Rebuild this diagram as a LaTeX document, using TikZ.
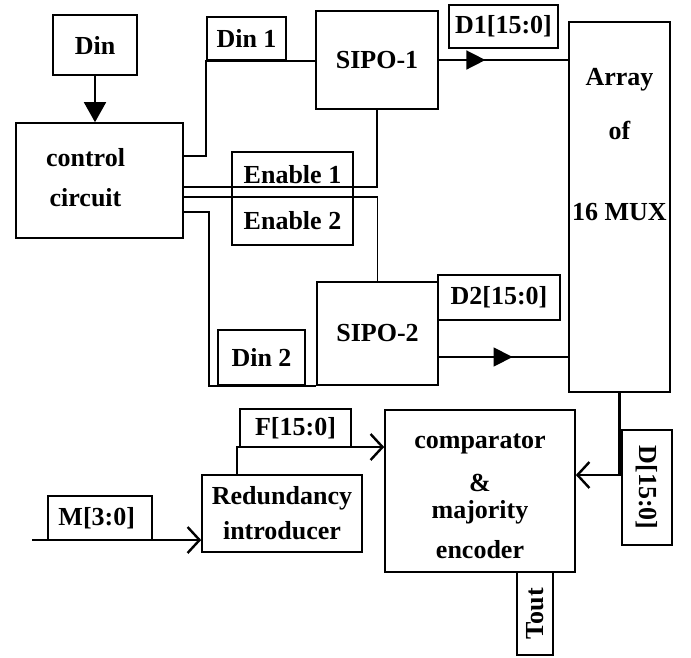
\documentclass[tikz,border=0pt]{standalone}
\usepackage{fontspec}
\setmainfont{Liberation Serif}
\usetikzlibrary{arrows.meta,decorations.markings}

\begin{document}
\begin{tikzpicture}[x=1pt, y=1pt, line width=1.6pt,
        font=\fontsize{26}{30}\selectfont\bfseries,
        midtip/.style={postaction={decorate}, decoration={markings,
            mark=at position #1 with {\arrow{Triangle[length=19pt,width=19pt]}}}}]
        \tikzstyle{block} = [rectangle, draw, inner sep=0pt, align=center]
        \tikzstyle{txt} = [inner sep=0pt, align=center]
        \tikzstyle{bus} = [line width=2.4pt]
        \useasboundingbox (0,0) rectangle (691,-657);

        % main blocks
        \node[block, minimum width=84pt, minimum height=60pt] (din) at (95,-45) {Din};
        \node[block, minimum width=167pt, minimum height=115pt] (ctrl) at (99.5,-180.5) {};
        \node[txt] (ctrltxt) at ([xshift=-14pt,yshift=3pt]ctrl.center) {control\\[10pt]circuit};
        \node[block, minimum width=122pt, minimum height=98pt] (sipo1) at (377,-60) {SIPO-1};
        \node[block, minimum width=121pt, minimum height=103pt] (sipo2) at (377.5,-333.5) {SIPO-2};
        \node[block, minimum width=101pt, minimum height=370pt] (array) at (619.5,-207) {};
        \node[txt, anchor=north] (arraytxt) at ([yshift=-46pt]array.north) {Array\\[24pt]of\\[51pt]16 MUX};
        \node[block, minimum width=190pt, minimum height=162pt] (comp) at (480,-491) {};
        \node[txt] (comptxt) at ([yshift=-5pt]comp.center) {comparator\\[13pt]\&\\[-3pt]majority\\[10pt]encoder};
        \node[block, minimum width=160pt, minimum height=77pt] (redund) at (282,-513.5) {Redundancy\\[5pt]introducer};

        % signal tags
        \foreach \name/\pos/\w/\h/\txt in {
            din1/{246.5,-38.5}/79/43/{Din 1},
            done/{503.5,-26.5}/109/43/{D1[15:0]},
            enone/{292.5,-174.5}/121/45/{Enable 1},
            entwo/{292.5,-221}/121/48/{Enable 2},
            din2/{261.5,-357.5}/87/55/{Din 2},
            dtwo/{499,-297.5}/122/45/{D2[15:0]},
            fbus/{295.5,-428}/111/38/{F[15:0]},
            mbus/{100,-518}/104/44/{M[3:0]}
        } {
            \node[block, minimum width=\w pt, minimum height=\h pt] (\name) at (\pos) {\txt};
        }
        \node[block, rotate=-90, minimum width=115pt, minimum height=50pt] (dbus) at (647,-487.5) {D[15:0]};
        \node[block, rotate=90, minimum width=83pt, minimum height=36pt] (tout) at (535,-613.5) {Tout};
        \coordinate (min) at (32,-540);

        % connections
        \draw[-{Triangle[length=20pt,width=22pt]}] (din.south) -- (din.south |- ctrl.north);
        \draw ([yshift=24.5pt]ctrl.east) -| (din1.south west) -- (din1.south west -| sipo1.west);
        \draw ([yshift=-6.5pt]ctrl.east) -| (sipo1.south);
        \draw ([yshift=-16.5pt]ctrl.east) -| (sipo2.north);
        \draw ([yshift=-31.5pt]ctrl.east) -- ++(25,0) |- (sipo2.south west);
        \draw[midtip=0.36] (sipo1.east) -- (sipo1.east -| array.west);
        \draw[midtip=0.57] ([yshift=-23.5pt]sipo2.east) -- ([yshift=-23.5pt]sipo2.east -| array.west);
        \draw[bus, -{Straight Barb[length=12pt,width=26pt]}] (array.south) |- ([yshift=16pt]comp.east);
        \draw[bus, -{Straight Barb[length=12pt,width=26pt]}] ([xshift=36pt]redund.north west) |- ([yshift=44pt]comp.west);
        \draw[bus, -{Straight Barb[length=12pt,width=26pt]}] (min) -- (min -| redund.west);
    \end{tikzpicture}
\end{document}
